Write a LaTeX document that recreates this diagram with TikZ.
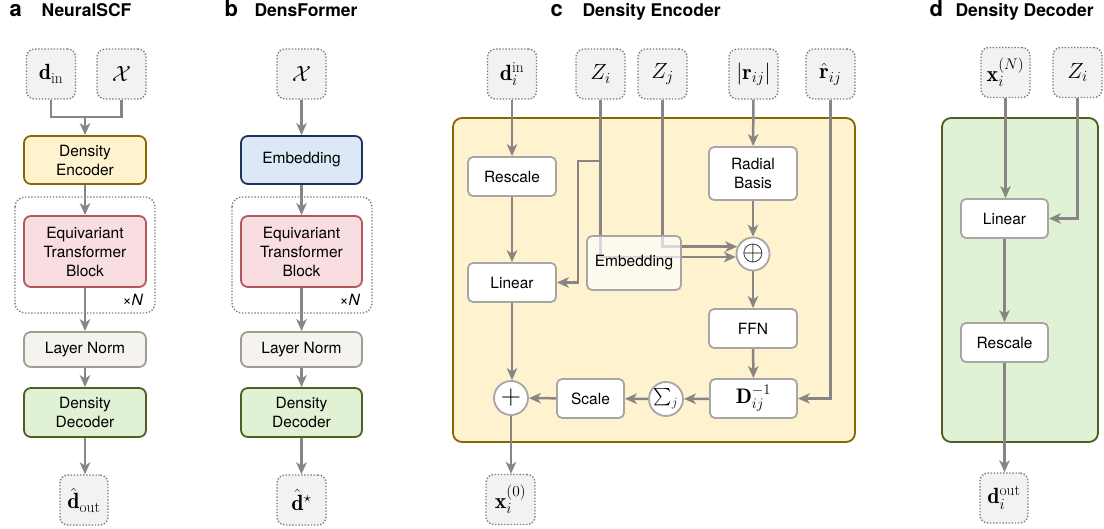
\RequirePackage{fix-cm}
\documentclass[tikz,border=0pt]{standalone}
\usepackage{amsmath}
\usepackage{fontspec}
\newfontfamily\helv{TeX Gyre Heros}
\usetikzlibrary{arrows.meta,calc}
\definecolor{arrgray}{RGB}{138,133,133}
\definecolor{dotgray}{RGB}{125,125,125}
\definecolor{infill}{RGB}{242,242,242}
\definecolor{wgray}{RGB}{166,166,166}
\definecolor{encfill}{RGB}{255,242,206}
\definecolor{encdraw}{RGB}{133,104,0}
\definecolor{etbfill}{RGB}{248,222,225}
\definecolor{etbdraw}{RGB}{180,86,92}
\definecolor{lnfill}{RGB}{245,243,239}
\definecolor{lndraw}{RGB}{160,157,143}
\definecolor{decfill}{RGB}{225,242,212}
\definecolor{decdraw}{RGB}{78,95,38}
\definecolor{embfill}{RGB}{220,232,246}
\definecolor{embdraw}{RGB}{29,52,97}
\pgfdeclarelayer{bg}
\pgfdeclarelayer{mid}
\pgfsetlayers{bg,mid,main}
\begin{document}
\begin{tikzpicture}[x=1pt,y=-1pt,
  conn/.style={draw=arrgray, line width=2.5pt, -{Stealth[length=12pt,width=10.5pt,inset=3.5pt]}},
  plainline/.style={draw=arrgray, line width=2.5pt},
  txt/.style={font=\helv\fontsize{15.5}{19}\selectfont},
  box/.style={txt, rounded corners=7pt, line width=1.8pt, align=center, inner sep=0pt},
  wbox/.style={box, draw=wgray, fill=white, rounded corners=5pt},
  encbox/.style={box, draw=encdraw, fill=encfill, minimum width=122pt},
  etbbox/.style={box, draw=etbdraw, fill=etbfill, minimum width=122pt, minimum height=71pt},
  lnbox/.style={box, draw=lndraw, fill=lnfill, minimum width=122pt, minimum height=35pt},
  decbox/.style={box, draw=decdraw, fill=decfill, minimum width=122pt, minimum height=49pt},
  embbox/.style={box, draw=embdraw, fill=embfill, minimum width=121pt, minimum height=48pt},
  inbox/.style={draw=dotgray, fill=infill, line width=1.4pt, dash pattern=on 1.4pt off 1.7pt,
    rounded corners=8pt, minimum width=49pt, minimum height=50pt, inner sep=0pt,
    font=\fontsize{22}{26}\selectfont},
  repbox/.style={draw=dotgray, line width=1.4pt, dash pattern=on 1.4pt off 1.7pt, rounded corners=10pt},
  circ/.style={circle, draw=wgray, fill=white, line width=1.8pt, minimum size=33pt, inner sep=0pt},
  title/.style={anchor=base west, font=\helv\bfseries\fontsize{17.5}{21}\selectfont},
  letter/.style={anchor=base west, font=\helv\bfseries\fontsize{22}{26}\selectfont},
  panel/.style={line width=1.8pt, rounded corners=9pt}
]
\useasboundingbox (0,0) rectangle (1104,529);

% ---------- titles ----------
\node[letter] (la) at (6,17) {a};
\node[title] (ta) at (38,17) {NeuralSCF};
\node[letter] (lb) at (221,17) {b};
\node[title] (tb) at (251,17) {DensFormer};
\node[letter] (lc) at (547,17) {c};
\node[title] (tc) at (579,17) {Density Encoder};
\node[letter] (ld) at (926,17) {d};
\node[title] (td) at (952,17) {Density Decoder};

% ---------- panel backgrounds ----------
\begin{pgfonlayer}{bg}
  \draw[repbox] (15,197) rectangle (155,313);
  \draw[repbox] (232,197) rectangle (372,313);
  \draw[panel, draw=encdraw, fill=encfill] (453,118) rectangle (855,442);
  \draw[panel, draw=decdraw, fill=decfill] (942,118) rectangle (1098,442);
\end{pgfonlayer}

% ---------- panel a ----------
\node[inbox] (a_din) at (51,74) {$\mathbf{d}_{\mathrm{in}}$};
\node[inbox] (a_X) at (121.5,74) {$\mathcal{X}$};
\coordinate (a_j) at (85,117);
\node[encbox, minimum height=48pt] (a_enc) at (85,160) {Density\\Encoder};
\node[etbbox] (a_etb) at (85,251.5) {Equivariant\\Transformer\\Block};
\node[txt] (a_n) at (133,300) {×\textit{N}};
\node[lnbox] (a_ln) at (85,349.5) {Layer Norm};
\node[decbox] (a_dec) at (85,412.5) {Density\\Decoder};
\node[inbox, minimum width=48pt] (a_out) at (84,500) {$\hat{\mathbf{d}}_{\mathrm{out}}$};

% ---------- panel b ----------
\node[inbox] (b_X) at (301.5,74) {$\mathcal{X}$};
\node[embbox] (b_emb) at (301.5,160) {Embedding};
\node[etbbox, minimum width=121pt] (b_etb) at (301.5,251.5) {Equivariant\\Transformer\\Block};
\node[txt] (b_n) at (350,300) {×\textit{N}};
\node[lnbox, minimum width=121pt] (b_ln) at (301.5,349.5) {Layer Norm};
\node[decbox, minimum width=121pt] (b_dec) at (301.5,412.5) {Density\\Decoder};
\node[inbox] (b_out) at (301.5,500) {$\hat{\mathbf{d}}^{\star}$};

% ---------- panel c ----------
\node[inbox] (c_din) at (512,74) {$\mathbf{d}_i^{\mathrm{in}}$};
\node[inbox] (c_Zi) at (600.5,74) {$Z_i$};
\node[inbox] (c_Zj) at (662.5,74) {$Z_j$};
\node[inbox] (c_r) at (753.5,74) {$|\mathbf{r}_{ij}|$};
\node[inbox] (c_rh) at (830.5,74) {$\hat{\mathbf{r}}_{ij}$};
\node[wbox, minimum width=88pt, minimum height=39pt] (c_resc) at (512,176.5) {Rescale};
\node[wbox, minimum width=88pt, minimum height=39pt] (c_lin) at (512,282.5) {Linear};
\node[wbox, minimum width=94pt, minimum height=54pt, fill opacity=0.68, text opacity=1, draw opacity=1] (c_emb) at (634,263) {\raisebox{-4pt}{Embedding}};
\node[wbox, minimum width=88pt, minimum height=53pt] (c_rb) at (753,173.5) {Radial\\Basis};
\node[circ] (c_oplus) at (753,254) {\fontsize{28}{30}\selectfont$\oplus$};
\node[wbox, minimum width=88pt, minimum height=39pt] (c_ffn) at (753,328.5) {FFN};
\node[wbox, minimum width=87pt, minimum height=39pt, font=\fontsize{21}{25}\selectfont] (c_D) at (753.5,398.5) {$\mathbf{D}_{ij}^{-1}$};
\node[circ, minimum size=34pt, font=\fontsize{18}{22}\selectfont] (c_sum) at (666,399) {$\textstyle\sum_j$};
\node[wbox, minimum width=67pt, minimum height=39pt] (c_scale) at (590.5,398.5) {Scale};
\node[circ, minimum size=34pt] (c_plus) at (511,398) {\fontsize{28}{30}\selectfont$+$};
\node[inbox] (c_x0) at (510.5,499.5) {$\mathbf{x}_i^{(0)}$};
\coordinate (c_br) at (600.5,161);
\coordinate (c_k) at (578,161);

% ---------- panel d ----------
\node[inbox] (d_x) at (1005.5,72.5) {$\mathbf{x}_i^{(N)}$};
\node[inbox] (d_Zi) at (1077.5,72.5) {$Z_i$};
\node[wbox, minimum width=87pt, minimum height=39pt] (d_lin) at (1004.5,218.5) {Linear};
\node[wbox, minimum width=87pt, minimum height=39pt] (d_resc) at (1004.5,342.5) {Rescale};
\node[inbox, minimum width=48pt] (d_out) at (1004,498) {$\mathbf{d}_i^{\mathrm{out}}$};

% ---------- connectors ----------
\begin{pgfonlayer}{mid}
  % a
  \draw[plainline] (a_din.south) |- (a_j) -| (a_X.south);
  \draw[conn] (a_j) -- (a_enc.north);
  \draw[conn] (a_enc) -- (a_etb);
  \draw[conn] (a_etb) -- (a_ln);
  \draw[conn] (a_ln) -- (a_dec);
  \draw[conn] (a_dec.south) -- (a_dec.south |- a_out.north);
  % b
  \draw[conn] (b_X) -- (b_emb);
  \draw[conn] (b_emb) -- (b_etb);
  \draw[conn] (b_etb) -- (b_ln);
  \draw[conn] (b_ln) -- (b_dec);
  \draw[conn] (b_dec) -- (b_out);
  % c
  \draw[conn] (c_din) -- (c_resc);
  \draw[conn] (c_resc) -- (c_lin);
  \draw[conn] (c_lin.south) -- (c_lin.south |- c_plus.north);
  \draw[conn] (c_plus) -- (c_plus.south |- c_x0.north);
  \draw[conn] (c_r) -- (c_rb);
  \draw[conn] (c_rb) -- (c_oplus);
  \draw[conn] (c_oplus) -- (c_ffn);
  \draw[conn] (c_ffn) -- (c_D);
  \draw[conn] (c_D) -- (c_sum);
  \draw[conn] (c_sum) -- (c_scale);
  \draw[conn] (c_scale) -- (c_plus);
  \draw[conn] (c_rh.south) |- (c_D.east);
  \draw[conn] (c_Zi.south) |- (c_oplus.190);
  \draw[conn] (c_Zj.south) |- (c_oplus.155);
  \draw[conn] (c_br) -- (c_k) |- (c_lin.east);
  % d
  \draw[conn] (d_x.south) -- (d_x.south |- d_lin.north);
  \draw[conn] (d_Zi.south) |- (d_lin.east);
  \draw[conn] (d_lin) -- (d_resc);
  \draw[conn] (d_resc.south) -- (d_resc.south |- d_out.north);
\end{pgfonlayer}
\end{tikzpicture}
\end{document}
